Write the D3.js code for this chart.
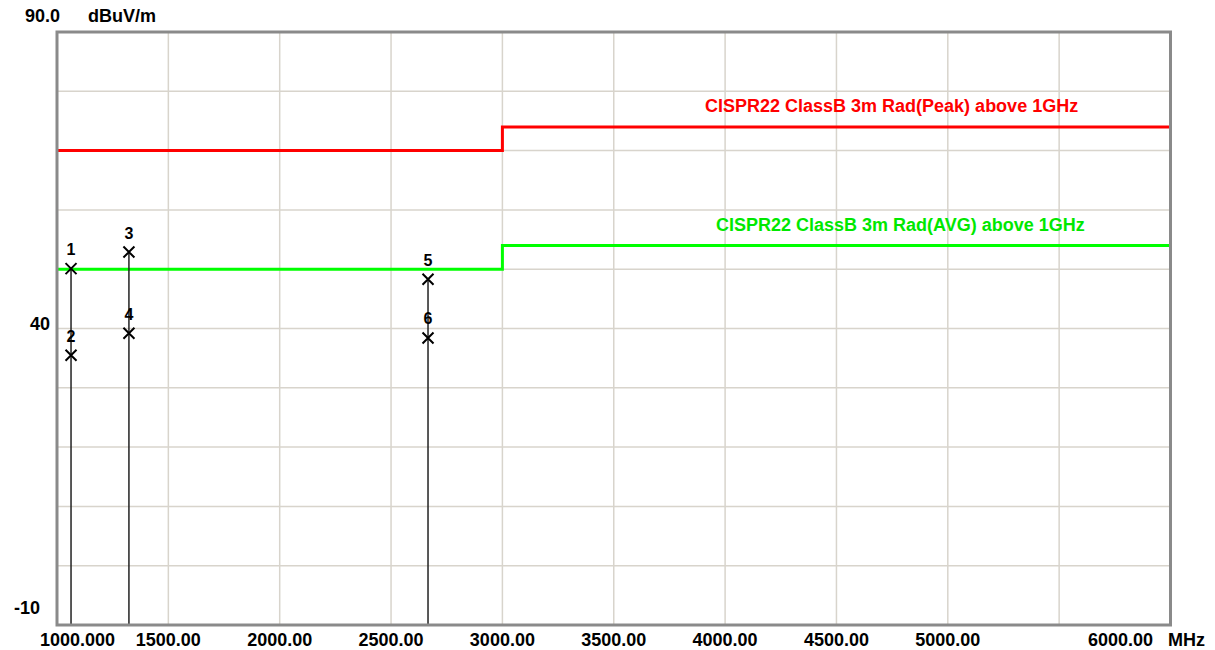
<!DOCTYPE html>
<html>
<head>
<meta charset="utf-8">
<script src="https://cdn.jsdelivr.net/npm/d3@7"></script>
<style>
  html, body { margin: 0; padding: 0; background: #fff; }
  svg text { font-family: "Liberation Sans", Arial, sans-serif; font-weight: bold; }
</style>
</head>
<body>
<svg id="chart"></svg>
<script>
// data
var limitFreq = [1000, 3000, 3000, 6000];
var peakLimit = [70, 70, 74, 74];
var avgLimit = [50, 50, 54, 54];
var peakName = "CISPR22 ClassB 3m Rad(Peak) above 1GHz";
var avgName = "CISPR22 ClassB 3m Rad(AVG) above 1GHz";

var markerNo = [1, 2, 3, 4, 5, 6];
var markerFreq = [1063, 1063, 1323, 1323, 2666, 2666];
var markerLevel = [50.1, 35.5, 52.9, 39.2, 48.3, 38.4];

var xGrid = [1500, 2000, 2500, 3000, 3500, 4000, 4500, 5000, 5500];
var xTicks = [1000, 1500, 2000, 2500, 3000, 3500, 4000, 4500, 5000, 6000];
var xTickLabels = ["1000.000", "1500.00", "2000.00", "2500.00", "3000.00", "3500.00", "4000.00", "4500.00", "5000.00", "6000.00"];
var yGrid = [0, 10, 20, 30, 40, 50, 60, 70, 80];
var yTicks = [90, 40, -10];
var yTickLabels = ["90.0", "40", "-10"];

var W = 1215, H = 650;
var svg = d3.select('#chart').attr('width', W).attr('height', H);

var x = d3.scaleLinear().domain([1000, 6000]).range([57, 1170.5]);
var y = d3.scaleLinear().domain([-10, 90]).range([625, 32]);

// grid
svg.append('g').selectAll('line').data(xGrid).join('line')
  .attr('x1', d => x(d)).attr('x2', d => x(d))
  .attr('y1', y(90)).attr('y2', y(-10))
  .attr('stroke', '#d8d4cc').attr('stroke-width', 1.5);
svg.append('g').selectAll('line').data(yGrid).join('line')
  .attr('x1', x(1000)).attr('x2', x(6000))
  .attr('y1', d => y(d)).attr('y2', d => y(d))
  .attr('stroke', '#d8d4cc').attr('stroke-width', 1.5);

// limit lines
var line = d3.line().x(d => x(d[0])).y(d => y(d[1]));
svg.append('path').datum(d3.zip(limitFreq, peakLimit))
  .attr('d', line).attr('fill', 'none').attr('stroke', '#ff0000').attr('stroke-width', 3);
svg.append('path').datum(d3.zip(limitFreq, avgLimit))
  .attr('d', line).attr('fill', 'none').attr('stroke', '#00ff00').attr('stroke-width', 3);

svg.append('text').attr('x', 705).attr('y', 112).attr('fill', '#ff0000')
  .style('font-size', '18px').text(peakName);
svg.append('text').attr('x', 716).attr('y', 231).attr('fill', '#00e800')
  .style('font-size', '18px').text(avgName);

// marker stems: one per frequency, up to the highest reading
var stems = d3.rollups(d3.zip(markerFreq, markerLevel), v => d3.max(v, d => d[1]), d => d[0]);
svg.append('g').selectAll('line').data(stems).join('line')
  .attr('x1', d => x(d[0])).attr('x2', d => x(d[0]))
  .attr('y1', y(-10)).attr('y2', d => y(d[1]))
  .attr('stroke', '#222').attr('stroke-width', 1.5);

// markers
var marks = svg.append('g').selectAll('g').data(markerNo).join('g')
  .attr('transform', (d, i) => `translate(${x(markerFreq[i])},${y(markerLevel[i])})`);
marks.append('path').attr('d', 'M-5.5,-5.5L5.5,5.5M-5.5,5.5L5.5,-5.5')
  .attr('stroke', '#000').attr('stroke-width', 2).attr('fill', 'none');
marks.append('text').attr('y', -13.5).attr('text-anchor', 'middle')
  .style('font-size', '16px').text(d => d);

// frame
svg.append('rect').attr('x', x(1000)).attr('y', y(90))
  .attr('width', x(6000) - x(1000)).attr('height', y(-10) - y(90))
  .attr('fill', 'none').attr('stroke', '#8a8a8a').attr('stroke-width', 3);

// x tick labels
svg.append('g').selectAll('text').data(xTicks).join('text')
  .attr('x', (d, i) => i == 0 ? 40 : (d == 6000 ? 1153 : x(d)))
  .attr('y', 646)
  .attr('text-anchor', (d, i) => i == 0 ? 'start' : (d == 6000 ? 'end' : 'middle'))
  .style('font-size', '18px')
  .text((d, i) => xTickLabels[i]);
svg.append('text').attr('x', 1168).attr('y', 646).style('font-size', '18px').text('MHz');

// y tick labels
var yLabPos = [[25, 22, 'start'], [50, 330, 'end'], [40, 614, 'end']];
svg.append('g').selectAll('text').data(yTicks).join('text')
  .attr('x', (d, i) => yLabPos[i][0]).attr('y', (d, i) => yLabPos[i][1])
  .attr('text-anchor', (d, i) => yLabPos[i][2])
  .style('font-size', '18px')
  .text((d, i) => yTickLabels[i]);
svg.append('text').attr('x', 88).attr('y', 22).style('font-size', '18px').text('dBuV/m');
</script>
</body>
</html>
